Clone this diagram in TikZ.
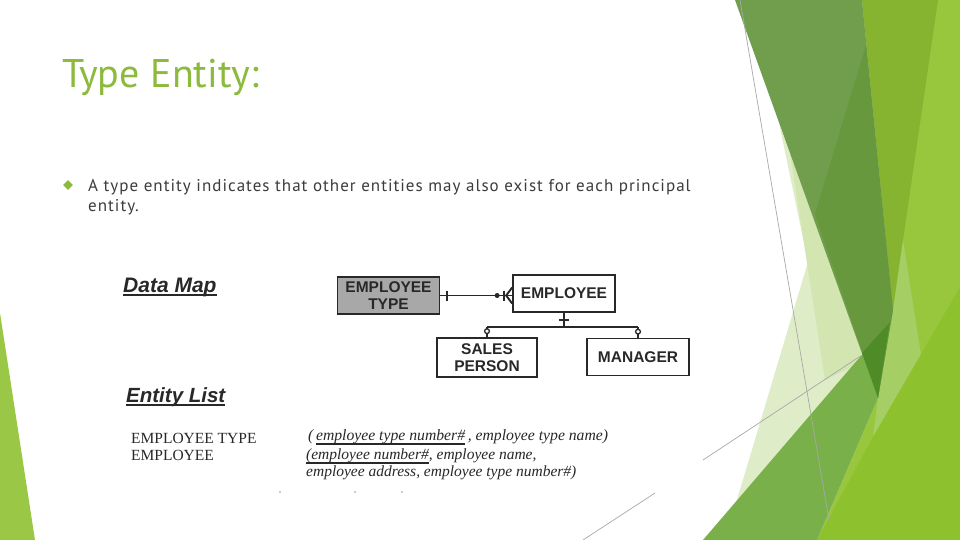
\documentclass[tikz,border=0pt]{standalone}
\usepackage{fontspec}
\setmainfont{Liberation Serif}
\newfontfamily\titlefont{PT Sans}
\newfontfamily\bodyfont[LetterSpace=6]{PT Sans}
\newfontfamily\arialfont{Liberation Sans}
\usetikzlibrary{shapes.geometric,calc}
\definecolor{titlegreen}{RGB}{140,186,60}
\definecolor{bodygray}{RGB}{60,60,60}
\definecolor{darkband}{RGB}{112,158,76}
\definecolor{darksub}{RGB}{104,152,62}
\definecolor{olive}{RGB}{135,180,48}
\definecolor{brightg}{RGB}{152,199,62}
\definecolor{botright}{RGB}{142,193,46}
\definecolor{lightband}{RGB}{165,206,100}
\definecolor{pale}{RGB}{223,236,200}
\definecolor{paleb}{RGB}{211,229,176}
\definecolor{mediumg}{RGB}{121,176,74}
\definecolor{darkest}{RGB}{79,139,39}
\definecolor{lefttri}{RGB}{155,199,70}
\definecolor{thinline}{RGB}{168,168,168}
\definecolor{boxgray}{RGB}{168,168,168}
\definecolor{inkgray}{RGB}{40,40,40}
\newcommand\ulx[1]{\setbox0=\hbox{#1}\rlap{\rule[-4.6pt]{\wd0}{1.2pt}}\box0}
\newcommand\ulh[1]{\setbox0=\hbox{#1}\rlap{\rule[-3.8pt]{\wd0}{1.6pt}}\box0}
\begin{document}
\begin{tikzpicture}[x=1pt,y=-1pt,
  txt/.style={anchor=base west, inner sep=0pt},
  erbox/.style={draw=inkgray, line width=1.7pt, minimum width=102pt, minimum height=37pt,
    inner sep=0pt, align=center, text=inkgray,
    font=\arialfont\bfseries\fontsize{15.5}{17.5}\selectfont},
  conn/.style={draw=inkgray, line width=1.9pt},
  thin/.style={draw=thinline, line width=0.7pt}]
\useasboundingbox (0,0) rectangle (960,540);
\fill[white] (0,0) rectangle (960,540);
% ---- facet background ----
\fill[brightg] (862,0) -- (960,0) -- (960,540) -- (817,540) -- (878,398) -- (893,310) -- cycle;
\fill[olive] (862,0) -- (938,0) -- (903,240) -- (893,310) -- cycle;
\fill[lightband] (903,240) -- (921,355) -- (873,437) -- (878,398) -- (893,310) -- cycle;
\fill[botright] (960,287) -- (960,540) -- (817,540) -- (873,437) -- cycle;
\fill[pale] (779,123) -- (808,262) -- (725,540) -- (800,540) -- (862,353) -- cycle;
\fill[paleb] (790,153) -- (825,380) -- (850,368) -- (862,353) -- cycle;
\fill[darkband] (735,0) -- (862,0) -- (893,310) -- (878,398) -- cycle;
\fill[darksub] (866,45) -- (815,214) -- (878,398) -- (893,310) -- cycle;
\fill[mediumg] (703,540) -- (890,322) -- (878,398) -- (817,540) -- cycle;
\fill[darkest] (862,353) -- (890,322) -- (878,398) -- cycle;
\fill[lefttri] (0,313) -- (35,540) -- (0,540) -- cycle;
\draw[thin] (740,0) -- (829,520);
\draw[thin] (703,460) -- (862,355);
\draw[thin] (583,540) -- (655,493);
% ---- title and bullet ----
\node[txt, text=titlegreen, font=\titlefont\fontsize{40}{44}\selectfont] (title) at (62,88) {Type Entity:};
\node[diamond, fill=titlegreen, inner sep=0pt, minimum size=10pt] (bul) at (68,185) {};
\node[txt, text=bodygray, font=\bodyfont\fontsize{17}{20}\selectfont] (b1) at (88,191) {A type entity indicates that other entities may also exist for each principal};
\node[txt, text=bodygray, font=\bodyfont\fontsize{17}{20}\selectfont] (b2) at (88,211) {entity.};
% ---- data map ----
\node[txt, text=inkgray, font=\arialfont\bfseries\itshape\fontsize{21}{24}\selectfont] (dm) at (123,292) {\ulh{Data Map}};
\node[erbox, fill=boxgray] (et) at (388.5,295.5) {EMPLOYEE\\TYPE};
\node[erbox, fill=white] (emp) at (564,293.5) {EMPLOYEE};
\node[erbox, fill=white, minimum width=100pt, minimum height=39pt] (sp) at (487,357.5) {SALES\\PERSON};
\node[erbox, fill=white] (mg) at (638,357) {MANAGER};
% relationship employee type -> employee
\coordinate (ew) at (et.east -| emp.west);
\draw[conn] (et.east) -- (ew);
\draw[conn] ($(et.east)+(7,-5)$) -- ($(et.east)+(7,5)$);
\fill[inkgray] ($(ew)+(-15,0)$) circle (2.5);
\draw[conn] ($(ew)+(-8,-5)$) -- ($(ew)+(-8,5)$);
\draw[conn] ($(ew)+(-6,0)$) -- ($(ew)+(0,-8)$);
\draw[conn] ($(ew)+(-6,0)$) -- ($(ew)+(0,8)$);
% subtypes
\coordinate (j) at ($(emp.south)+(0,14)$);
\draw[conn] (emp.south) -- (j);
\draw[conn] ($(emp.south)+(-5,7)$) -- ($(emp.south)+(5,7)$);
\draw[conn] (sp.north |- j) -- (mg.north |- j);
\draw[conn] (sp.north |- j) -- (sp.north);
\draw[conn] (mg.north |- j) -- (mg.north);
\draw[inkgray, line width=1.3pt, fill=white] ($(sp.north)+(0,-6)$) circle (2.4);
\draw[inkgray, line width=1.3pt, fill=white] ($(mg.north)+(0,-6)$) circle (2.4);
% ---- entity list ----
\node[txt, text=inkgray, font=\arialfont\bfseries\itshape\fontsize{20.5}{24}\selectfont] (el) at (126,402) {\ulh{Entity List}};
\node[txt, text=inkgray, font=\fontsize{15.5}{18}\selectfont] (l1) at (131,443) {EMPLOYEE TYPE};
\node[txt, text=inkgray, font=\fontsize{15.5}{18}\selectfont] (l2) at (131,460) {EMPLOYEE};
\node[txt, text=inkgray, font=\itshape\fontsize{15.7}{18}\selectfont] (r1) at (308,440) {(\,\ulx{employee type number\#}\,, employee type name)};
\node[txt, text=inkgray, font=\itshape\fontsize{15.5}{18}\selectfont] (r2) at (306,459) {\ulx{(employee number\#}, employee name,};
\node[txt, text=inkgray, font=\itshape\fontsize{15.5}{18}\selectfont] (r3) at (306,476) {employee address, employee type number\#)};
\fill[inkgray] (280,492) circle (0.7) (355,492) circle (0.7) (402,492) circle (0.7);
\end{tikzpicture}
\end{document}
